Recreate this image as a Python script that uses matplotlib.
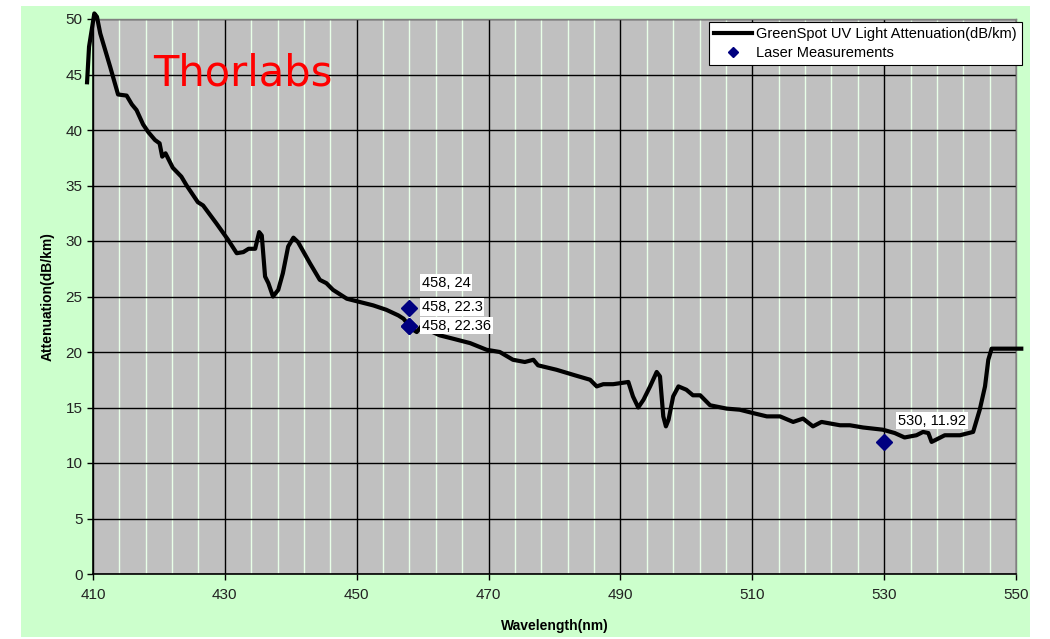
import numpy as np
import matplotlib.pyplot as plt
from matplotlib.patches import Rectangle
from matplotlib.ticker import MultipleLocator

# Curva de atenuacion
wavelength = [409.1, 409.4, 410.2, 410.6, 411.1, 412.0, 412.6, 413.8, 415.1, 415.9,
              416.6, 417.6, 418.4, 419.4, 420.1, 420.5, 421.0, 422.1, 423.4, 424.2,
              425.9, 426.7, 428.7, 430.5, 431.8, 432.8, 433.6, 434.6, 435.2, 435.6,
              436.1, 436.6, 437.3, 438.1, 438.8, 439.6, 440.4, 441.1, 442.9, 444.4,
              445.4, 446.4, 448.5, 450.5, 452.5, 454.5, 456.3, 457.1, 458.3, 459.1,
              459.8, 460.4, 462.6, 464.6, 467.2, 469.7, 471.7, 473.7, 475.5, 476.8,
              477.5, 480.3, 483.1, 485.4, 486.4, 487.4, 488.9, 491.2, 491.9, 492.7,
              493.5, 494.5, 495.5, 496.0, 496.5, 496.9, 497.3, 498.0, 498.8, 500.0,
              501.0, 502.1, 503.6, 506.1, 508.1, 510.1, 512.2, 514.2, 516.2, 517.7,
              519.2, 520.5, 523.3, 524.8, 526.8, 529.8, 531.6, 533.1, 534.9, 535.9,
              536.7, 537.2, 538.2, 539.2, 541.5, 543.5, 544.5, 545.3, 545.8, 546.3,
              550.8]
attenuation = [44.3, 47.5, 50.5, 50.2, 48.7, 46.9, 45.7, 43.2, 43.1, 42.3,
               41.8, 40.5, 39.8, 39.1, 38.8, 37.6, 37.9, 36.6, 35.8, 35.0,
               33.5, 33.2, 31.6, 30.1, 28.9, 29.0, 29.3, 29.3, 30.8, 30.5,
               26.8, 26.2, 25.0, 25.6, 27.1, 29.5, 30.3, 29.9, 28.0, 26.5,
               26.2, 25.6, 24.8, 24.5, 24.2, 23.8, 23.3, 23.0, 22.1, 21.8,
               22.3, 22.1, 21.5, 21.2, 20.8, 20.2, 20.0, 19.3, 19.1, 19.3,
               18.8, 18.4, 17.9, 17.5, 16.9, 17.1, 17.1, 17.3, 16.0, 15.0,
               15.7, 16.9, 18.2, 17.8, 14.2, 13.3, 13.9, 16.0, 16.9, 16.6,
               16.1, 16.1, 15.2, 14.9, 14.8, 14.5, 14.2, 14.2, 13.7, 14.0,
               13.3, 13.7, 13.4, 13.4, 13.2, 13.0, 12.7, 12.3, 12.5, 12.8,
               12.7, 11.9, 12.2, 12.5, 12.5, 12.8, 14.8, 16.9, 19.3, 20.3,
               20.3]

# Mediciones con laser
laser_wl = [458, 458, 458, 530]
laser_att = [24, 22.3, 22.36, 11.92]
etiquetas = ["458, 24", "458, 22.3", "458, 22.36", "530, 11.92"]
desplaz = [(9, 18), (9, 14), (9, 0), (10, 15)]  # en puntos

fig = plt.figure(figsize=(10.5, 6.39), dpi=100)
fig.patch.set_facecolor('white')
fig.patches.append(Rectangle((21 / 1050, 2 / 639), 1009 / 1050, 631 / 639,
                             transform=fig.transFigure, facecolor='#CCFFCC',
                             edgecolor='none', zorder=-10))

ax = fig.add_axes([93 / 1050, 65 / 639, 923 / 1050, 555 / 639])
ax.set_facecolor('#C0C0C0')

ax.plot(wavelength, attenuation, color='black', lw=3.0, clip_on=False, zorder=3,
        label='GreenSpot UV Light Attenuation(dB/km)')
ax.plot(laser_wl, laser_att, linestyle='none', marker='D', markersize=8.5,
        color='#000080', zorder=4, label='Laser Measurements')

for x, y, txt, off in zip(laser_wl, laser_att, etiquetas, desplaz):
    ax.annotate(txt, xy=(x, y), xytext=off, textcoords='offset points',
                fontsize=10.5, family='Liberation Sans', va='center', ha='left',
                bbox=dict(facecolor='white', edgecolor='none', pad=1.2), zorder=5)

ax.set_xlim(410, 550)
ax.set_ylim(0, 50)
ax.set_xticks(np.arange(410, 551, 20))
ax.set_xticks(np.arange(414, 550, 4), minor=True)
ax.yaxis.set_major_locator(MultipleLocator(5))

ax.grid(which='minor', axis='x', color='#E8FFE8', lw=1.0)
ax.grid(which='major', axis='both', color='black', lw=1.0)
ax.set_axisbelow(True)

for lado in ['top', 'right']:
    ax.spines[lado].set_color('#808080')
    ax.spines[lado].set_linewidth(1.0)
ax.spines['left'].set_linewidth(1.2)
ax.spines['bottom'].set_linewidth(1.2)

ax.tick_params(axis='both', which='major', labelsize=11, length=4, width=1, direction='out')
ax.tick_params(axis='x', which='minor', length=0)
ax.tick_params(axis='x', pad=6)
for t in ax.get_xticklabels() + ax.get_yticklabels():
    t.set_family('Liberation Sans')
    t.set_color('#222222')

ax.set_xlabel('Wavelength(nm)', fontsize=10, fontweight='bold', family='Liberation Sans', labelpad=12)
ax.set_ylabel('Attenuation(dB/km)', fontsize=10, fontweight='bold', family='Liberation Sans', labelpad=8)

fig.text(153 / 1050, 1 - 86 / 639, 'Thorlabs', color='#FF0000', fontsize=30,
         family='DejaVu Sans', va='baseline', ha='left')

leg = ax.legend(loc='upper right', bbox_to_anchor=(1022 / 1050, 1 - 22 / 639),
                bbox_transform=fig.transFigure, prop={'family': 'Liberation Sans', 'size': 10.5},
                frameon=True, fancybox=False, framealpha=1, edgecolor='black',
                borderpad=0.35, labelspacing=0.35, handlelength=2.6, handletextpad=0.3,
                borderaxespad=0, markerscale=0.6)
leg.get_frame().set_linewidth(0.8)

fig.savefig('out.png', dpi=100)
